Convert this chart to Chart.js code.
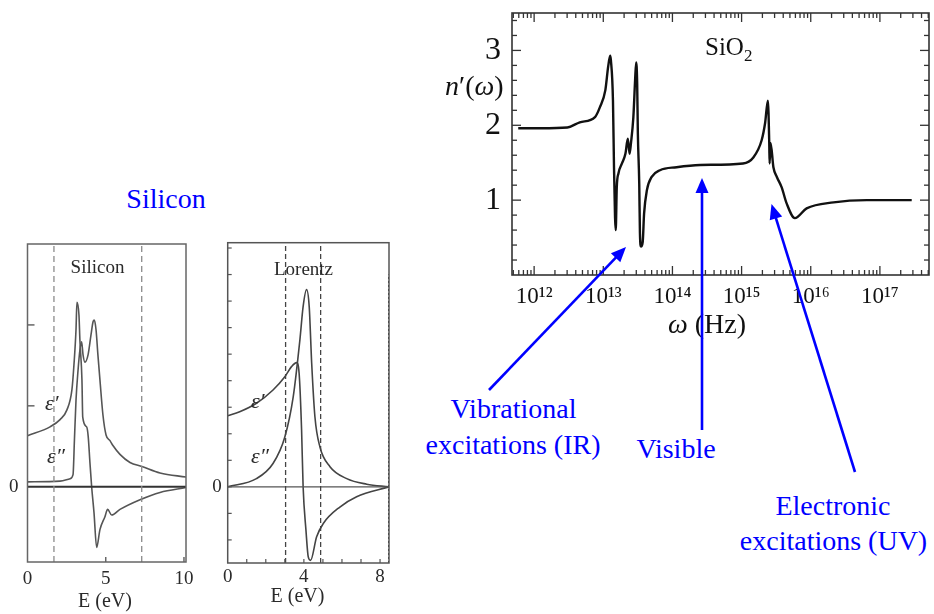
<!DOCTYPE html>
<html>
<head>
<meta charset="utf-8">
<script src="https://cdn.jsdelivr.net/npm/chart.js@4.4.1/dist/chart.umd.min.js"></script>
<style>
  html, body { margin: 0; padding: 0; background: #fff; }
  #page { position: relative; width: 934px; height: 614px; overflow: hidden;
          font-family: "Liberation Serif", "Times New Roman", serif; }
  .box { position: absolute; }
  .t { position: absolute; white-space: nowrap; line-height: 1; }
  .c { transform: translateX(-50%); }
  .blue { color: #0000ff; }
  .gray { color: #2a2a2a; }
  i { font-style: italic; }
</style>
</head>
<body>
<div id="page">
  <div class="box" style="left:0;top:230px;width:200px;height:384px"><canvas id="si" width="200" height="384"></canvas></div>
  <div class="box" style="left:190px;top:230px;width:210px;height:384px"><canvas id="lz" width="210" height="384"></canvas></div>
  <div class="box" style="left:430px;top:0;width:504px;height:345px"><canvas id="sio2" width="504" height="345"></canvas></div>

  <!-- left panels -->
  <div class="t c blue" style="left:166px;top:184.5px;font-size:28px">Silicon</div>
  <div class="t c gray" style="left:97.5px;top:257px;font-size:19px">Silicon</div>
  <div class="t c gray" style="left:303.5px;top:259px;font-size:19px">Lorentz</div>
  <div class="t gray" style="left:45px;top:391.5px;font-size:22px"><i>ε′</i></div>
  <div class="t gray" style="left:47px;top:444.5px;font-size:22px"><i>ε″</i></div>
  <div class="t gray" style="left:251px;top:389.5px;font-size:22px"><i>ε′</i></div>
  <div class="t gray" style="left:251px;top:444.5px;font-size:22px"><i>ε″</i></div>
  <div class="t c gray" style="left:105px;top:590px;font-size:20px">E (eV)</div>
  <div class="t c gray" style="left:297.5px;top:585px;font-size:20px">E (eV)</div>

  <!-- SiO2 panel -->
  <div class="t" style="left:705px;top:34px;font-size:25px;color:#111">SiO<span style="font-size:17px;position:relative;top:6px">2</span></div>
  <div class="t" style="left:445px;top:71.5px;font-size:28px;color:#111"><i>n</i>′(<i>ω</i>)</div>
  <div class="t" style="left:668px;top:309.5px;font-size:28px;color:#111"><i>ω</i> (Hz)</div>

  <!-- annotations -->
  <div class="t c blue" style="left:513.5px;top:394.5px;font-size:28px">Vibrational</div>
  <div class="t c blue" style="left:513px;top:430.5px;font-size:28px">excitations (IR)</div>
  <div class="t c blue" style="left:676px;top:434.5px;font-size:28px">Visible</div>
  <div class="t c blue" style="left:833px;top:491.5px;font-size:28px">Electronic</div>
  <div class="t c blue" style="left:833.5px;top:526.5px;font-size:28px">excitations (UV)</div>

  <svg id="arrows" class="box" style="left:0;top:0" width="934" height="614"></svg>
</div>

<script>
// ---- Silicon: dielectric function vs photon energy (eV) ----
const siEnergyReal = [0, 1.44, 2.08, 2.52, 2.84, 2.97, 3.10, 3.16, 3.29, 3.35, 3.48, 3.53, 3.78, 3.88, 3.99, 4.10, 4.25, 4.42, 4.63, 4.95, 5.12, 5.38, 5.91, 7.19, 8.47, 10.13];
const siEpsReal    = [0.63, 0.74, 0.83, 0.95, 1.20, 1.51, 1.94, 2.28, 2.12, 1.81, 1.32, 0.86, 0.74, 0.62, 0.30, 0.00, -0.32, -0.75, -0.53, -0.37, -0.28, -0.35, -0.28, -0.16, -0.07, -0.01];
const siEnergyImag = [0, 2.08, 2.72, 2.91, 3.00, 3.10, 3.23, 3.35, 3.46, 3.55, 3.67, 3.87, 4.06, 4.19, 4.27, 4.38, 4.50, 4.63, 4.82, 5.02, 5.27, 5.46, 5.91, 6.55, 7.32, 8.47, 10.13];
const siEpsImag    = [0.06, 0.07, 0.10, 0.15, 0.58, 1.07, 1.44, 1.69, 1.79, 1.63, 1.54, 1.63, 1.88, 2.04, 2.06, 1.94, 1.63, 1.32, 0.89, 0.64, 0.57, 0.51, 0.40, 0.30, 0.25, 0.17, 0.12];
const siMarkers    = [1.69, 7.30];
const siXTicks     = [0, 5, 10];

// ---- Lorentz oscillator model ----
const lzEnergyReal = [0, 0.63, 1.51, 2.38, 3.00, 3.35, 3.62, 3.75, 3.88, 3.96, 4.11, 4.23, 4.35, 4.67, 5.02, 5.89, 6.77, 8.47];
const lzEpsReal    = [2.68, 2.83, 3.15, 3.65, 4.15, 4.53, 4.68, 4.28, 2.14, 0.00, -1.64, -2.64, -2.77, -1.88, -1.38, -0.76, -0.37, 0.00];
const lzEnergyImag = [0, 1.51, 2.38, 3.00, 3.44, 3.79, 3.96, 4.14, 4.28, 4.41, 4.58, 4.84, 5.37, 6.25, 7.30, 8.47];
const lzEpsImag    = [0.00, 0.31, 0.88, 1.88, 3.39, 5.53, 6.79, 7.43, 6.79, 4.66, 2.64, 1.51, 0.76, 0.31, 0.10, 0.00];
const lzMarkers    = [3.04, 4.88];
const lzXTicks     = [0, 4, 8];

// ---- SiO2: real refractive index vs log10 of frequency ----
const sio2LogOmega = [11.77, 12.10, 12.48, 12.66, 12.88, 12.95, 13.03, 13.07, 13.10, 13.11, 13.14, 13.155, 13.17, 13.18, 13.195, 13.22, 13.27, 13.32, 13.355, 13.38, 13.40, 13.435, 13.46, 13.475, 13.49, 13.50, 13.52, 13.53, 13.545, 13.57, 13.59, 13.63, 13.70, 13.82, 14.06, 14.40, 15.02, 15.17, 15.29, 15.34, 15.38, 15.40, 15.405, 15.42, 15.46, 15.51, 15.58, 15.65, 15.77, 15.94, 16.33, 16.81, 17.46];
const sio2N        = [1.96, 1.96, 1.97, 2.04, 2.11, 2.24, 2.47, 2.78, 2.93, 2.87, 2.33, 1.44, 0.77, 0.60, 1.17, 1.36, 1.49, 1.62, 1.82, 1.62, 1.76, 2.11, 2.60, 2.84, 2.56, 1.89, 1.22, 0.56, 0.38, 0.44, 0.82, 1.13, 1.31, 1.40, 1.44, 1.47, 1.49, 1.57, 1.80, 2.03, 2.33, 1.76, 1.49, 1.76, 1.44, 1.31, 1.17, 0.96, 0.76, 0.89, 0.97, 1.00, 1.00];
const sio2Decades  = [12, 13, 14, 15, 16, 17];
const sio2YTicks   = [1, 2, 3];

const SERIF = '"Liberation Serif", "Times New Roman", serif';
const SUP = {'0':'⁰','1':'¹','2':'²','3':'³','4':'⁴','5':'⁵','6':'⁶','7':'⁷','8':'⁸','9':'⁹'};

// Frame around the plot area plus inward tick marks on chosen sides
const framePlugin = {
  id: 'frame',
  afterDatasetsDraw(chart, args, opts) {
    const { ctx, chartArea: a, scales } = chart;
    ctx.save();
    ctx.strokeStyle = opts.color;
    ctx.lineWidth = opts.width;
    ctx.strokeRect(a.left, a.top, a.right - a.left, a.bottom - a.top);
    ctx.lineWidth = opts.tickWidth || opts.width;
    (opts.ticks || []).forEach(spec => {
      const sc = scales[spec.axis];
      spec.values.forEach(v => {
        const p = sc.getPixelForValue(v);
        spec.sides.forEach(side => {
          ctx.beginPath();
          if (side === 'left')   { ctx.moveTo(a.left, p);   ctx.lineTo(a.left + spec.len, p); }
          if (side === 'right')  { ctx.moveTo(a.right, p);  ctx.lineTo(a.right - spec.len, p); }
          if (side === 'bottom') { ctx.moveTo(p, a.bottom); ctx.lineTo(p, a.bottom - spec.len); }
          if (side === 'top')    { ctx.moveTo(p, a.top);    ctx.lineTo(p, a.top + spec.len); }
          ctx.stroke();
        });
      });
    });
    ctx.restore();
  }
};

function curve(xs, ys, color, width) {
  return { data: xs.map((x, i) => ({ x, y: ys[i] })), borderColor: color, borderWidth: width,
           pointRadius: 0, showLine: true, fill: false, cubicInterpolationMode: 'monotone' };
}
function segment(x0, y0, x1, y1, color, width, dash) {
  return { data: [{ x: x0, y: y0 }, { x: x1, y: y1 }], borderColor: color, borderWidth: width,
           borderDash: dash || [], pointRadius: 0, showLine: true, fill: false };
}
function baseOptions(pad) {
  return {
    responsive: false, animation: false, devicePixelRatio: 1, events: [],
    layout: { padding: pad },
    plugins: { legend: { display: false }, tooltip: { enabled: false } }
  };
}
function range(a, b, step) { const r = []; for (let v = a; v <= b + 1e-9; v += step) r.push(+v.toFixed(4)); return r; }
// fixed axis band; tick labels are allowed to overhang the plot edges
function fixBand(size) {
  return s => {
    if (s.isHorizontal()) s.height = size; else s.width = size;
    s.paddingTop = 0; s.paddingBottom = 0; s.paddingLeft = 0; s.paddingRight = 0;
  };
}

// ---- Silicon panel ----
{
  const ymin = -0.93, ymax = 3.0, xmax = 10.13;
  const opts = baseOptions({ top: 14, right: 14, left: 0, bottom: 0 });
  opts.plugins.frame = { color: '#666', width: 1.5, ticks: [
    { axis: 'y', values: [1, 2], sides: ['left'], len: 7 },
    { axis: 'x', values: [5, 10], sides: ['bottom'], len: 5 } ] };
  opts.scales = {
    x: { type: 'linear', min: 0, max: xmax, grid: { display: false, drawTicks: false }, border: { display: false },
         afterBuildTicks: s => { s.ticks = siXTicks.map(v => ({ value: v })); },
         afterFit: fixBand(52),
         ticks: { padding: 6, color: '#2a2a2a', font: { family: SERIF, size: 19 }, maxRotation: 0, autoSkip: false } },
    y: { type: 'linear', min: ymin, max: ymax, grid: { display: false, drawTicks: false }, border: { display: false },
         afterBuildTicks: s => { s.ticks = [{ value: 0 }]; },
         afterFit: fixBand(27.5),
         ticks: { padding: 9, color: '#2a2a2a', font: { family: SERIF, size: 19 } } }
  };
  new Chart(document.getElementById('si'), {
    type: 'scatter',
    data: { datasets: [
      segment(siMarkers[0], ymin, siMarkers[0], ymax, '#8a8a8a', 1.3, [6, 4]),
      segment(siMarkers[1], ymin, siMarkers[1], ymax, '#8a8a8a', 1.3, [6, 4]),
      segment(0, 0, xmax, 0, '#333', 2.2),
      curve(siEnergyReal, siEpsReal, '#555', 1.6),
      curve(siEnergyImag, siEpsImag, '#555', 1.6)
    ] },
    options: opts,
    plugins: [framePlugin]
  });
}

// ---- Lorentz panel ----
{
  const ymin = -2.87, ymax = 9.2, xmax = 8.47;
  const opts = baseOptions({ top: 12.7, right: 11, left: 0, bottom: 0 });
  opts.plugins.frame = { color: '#555', width: 1.5, tickWidth: 1.2, ticks: [
    { axis: 'y', values: range(-2, 9, 1), sides: ['left'], len: 4 },
    { axis: 'x', values: range(1, 8, 1), sides: ['bottom'], len: 4 } ] };
  opts.scales = {
    x: { type: 'linear', min: 0, max: xmax, grid: { display: false, drawTicks: false }, border: { display: false },
         afterBuildTicks: s => { s.ticks = lzXTicks.map(v => ({ value: v })); },
         afterFit: fixBand(51),
         ticks: { padding: 3, color: '#2a2a2a', font: { family: SERIF, size: 19 }, maxRotation: 0, autoSkip: false } },
    y: { type: 'linear', min: ymin, max: ymax, grid: { display: false, drawTicks: false }, border: { display: false },
         afterBuildTicks: s => { s.ticks = [{ value: 0 }]; },
         afterFit: fixBand(37.7),
         ticks: { padding: 6, color: '#2a2a2a', font: { family: SERIF, size: 19 } } }
  };
  new Chart(document.getElementById('lz'), {
    type: 'scatter',
    data: { datasets: [
      segment(lzMarkers[0], ymin, lzMarkers[0], ymax, '#444', 1.3, [5, 3]),
      segment(lzMarkers[1], ymin, lzMarkers[1], ymax, '#444', 1.3, [5, 3]),
      segment(xmax, ymin, xmax, 8.0, '#333', 2, [2, 2]),
      segment(0, 0, xmax, 0, '#555', 1.2),
      curve(lzEnergyReal, lzEpsReal, '#444', 1.6),
      curve(lzEnergyImag, lzEpsImag, '#444', 1.6)
    ] },
    options: opts,
    plugins: [framePlugin]
  });
}

// ---- SiO2 panel ----
{
  const xmin = Math.pow(10, 11.68), xmax = Math.pow(10, 17.71);
  const minorX = [];
  for (let d = 11; d <= 17; d++) for (let m = 2; m <= 9; m++) {
    const v = m * Math.pow(10, d);
    if (v > xmin && v < xmax) minorX.push(v);
  }
  const opts = baseOptions({ top: 13, right: 5, left: 0, bottom: 0 });
  opts.plugins.frame = { color: '#333', width: 1.6, tickWidth: 1.3, ticks: [
    { axis: 'y', values: sio2YTicks, sides: ['left', 'right'], len: 9 },
    { axis: 'y', values: range(0.2, 3.4, 0.2).filter(v => Math.abs(v - Math.round(v)) > 0.01), sides: ['left', 'right'], len: 5 },
    { axis: 'x', values: sio2Decades.map(e => Math.pow(10, e)), sides: ['top', 'bottom'], len: 9 },
    { axis: 'x', values: minorX, sides: ['top', 'bottom'], len: 5 } ] };
  opts.scales = {
    x: { type: 'logarithmic', min: xmin, max: xmax, grid: { display: false, drawTicks: false }, border: { display: false },
         afterBuildTicks: s => { s.ticks = sio2Decades.map(e => ({ value: Math.pow(10, e) })); },
         afterFit: fixBand(70),
         ticks: { padding: 8, color: '#111', font: { family: SERIF, size: 23 }, maxRotation: 0, autoSkip: false,
                  callback: v => '10' + String(Math.round(Math.log10(v))).split('').map(c => SUP[c]).join('') } },
    y: { type: 'linear', min: 0, max: 3.5, grid: { display: false, drawTicks: false }, border: { display: false },
         afterBuildTicks: s => { s.ticks = sio2YTicks.map(v => ({ value: v })); },
         afterFit: fixBand(82),
         ticks: { padding: 11, color: '#111', font: { family: SERIF, size: 32 } } }
  };
  new Chart(document.getElementById('sio2'), {
    type: 'scatter',
    data: { datasets: [
      curve(sio2LogOmega.map(e => Math.pow(10, e)), sio2N, '#111', 2.4)
    ] },
    options: opts,
    plugins: [framePlugin]
  });
}

// ---- Blue annotation arrows (tail -> tip) ----
{
  const arrows = [
    [489, 390, 626, 247],
    [702, 430, 702, 178],
    [855, 472, 771.5, 204]
  ];
  const svg = document.getElementById('arrows');
  const NS = 'http://www.w3.org/2000/svg';
  arrows.forEach(([x1, y1, x2, y2]) => {
    const dx = x2 - x1, dy = y2 - y1, L = Math.hypot(dx, dy);
    const ux = dx / L, uy = dy / L, px = -uy, py = ux;
    const head = 15, half = 6.5;
    const line = document.createElementNS(NS, 'line');
    line.setAttribute('x1', x1); line.setAttribute('y1', y1);
    line.setAttribute('x2', x2 - ux * (head - 2)); line.setAttribute('y2', y2 - uy * (head - 2));
    line.setAttribute('stroke', '#0000ff'); line.setAttribute('stroke-width', '2.6');
    svg.appendChild(line);
    const bx = x2 - ux * head, by = y2 - uy * head;
    const poly = document.createElementNS(NS, 'polygon');
    poly.setAttribute('points', `${x2},${y2} ${bx + px * half},${by + py * half} ${bx - px * half},${by - py * half}`);
    poly.setAttribute('fill', '#0000ff');
    svg.appendChild(poly);
  });
}
</script>
</body>
</html>
